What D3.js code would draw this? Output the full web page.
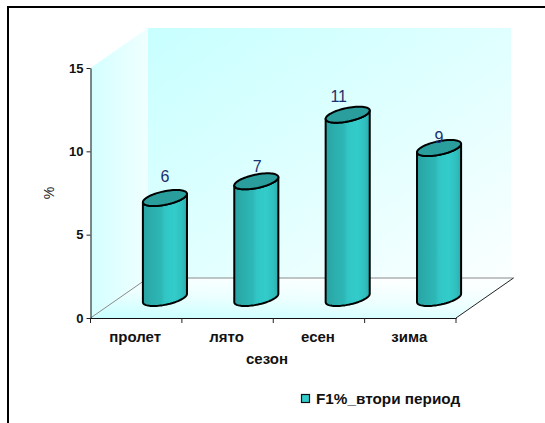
<!DOCTYPE html>
<html>
<head>
<meta charset="utf-8">
<script src="https://cdn.jsdelivr.net/npm/d3@7/dist/d3.min.js"></script>
<style>
  html, body { margin: 0; padding: 0; background: #fff; }
  svg { display: block; }
  text { font-family: "Liberation Sans", Arial, sans-serif; }
</style>
</head>
<body>
<svg id="chart" width="545" height="423"></svg>
<script>
// Seasonal F1% figures for the second period
const categories = ["пролет", "лято", "есен", "зима"];
const values = [6, 7, 11, 9];
const yTicks = [0, 5, 10, 15];
const seriesName = "F1%_втори период";
const xTitle = "сезон";
const yTitle = "%";

const svg = d3.select("#chart");
const defs = svg.append("defs");

// Front plane of the 3D box and the oblique depth vector
const front = { left: 90.5, right: 456, bottom: 318, top: 68 };
const depth = { x: 57.5, y: -40 };

const x = d3.scaleBand().domain(categories).range([front.left, front.right]);
const y = d3.scaleLinear().domain([0, 15]).range([front.bottom, front.top]);

function linear(id, x1, y1, x2, y2, stops) {
  const g = defs.append("linearGradient").attr("id", id)
    .attr("x1", x1).attr("y1", y1).attr("x2", x2).attr("y2", y2);
  stops.forEach(([o, c]) => g.append("stop").attr("offset", o).attr("stop-color", c));
}
linear("wallBack", 0, 0, 1, 1, [[0, "#c8ffff"], [0.55, "#e2ffff"], [1, "#fbffff"]]);
linear("wallSide", 0, 0, 1, 0, [[0, "#d4ffff"], [1, "#f0ffff"]]);
linear("floor", 0, 1, 0.45, 0, [[0, "#c8ffff"], [0.55, "#ecffff"], [1, "#fbffff"]]);
linear("cylinder", 0, 0, 1, 0, [
  [0, "#28a3a2"], [0.2, "#2baead"], [0.42, "#2db7b6"], [0.5, "#31c6c5"],
  [0.72, "#33cccb"], [0.9, "#2fbebd"], [1, "#2aabaa"]
]);

const poly = pts => "M" + pts.map(p => p.join(",")).join("L") + "Z";
const fl = front.left, fr = front.right, fb = front.bottom, ft = front.top;
const dx = depth.x, dy = depth.y;
const wallRight = fr + dx - 2.5;

// Box walls and floor
svg.append("path").attr("fill", "url(#wallBack)")
  .attr("d", poly([[fl + dx, ft + dy], [wallRight, ft + dy], [wallRight, fb + dy], [fl + dx, fb + dy]]));
svg.append("path").attr("fill", "url(#wallSide)")
  .attr("d", poly([[fl, ft], [fl + dx, ft + dy], [fl + dx, fb + dy], [fl, fb]]));
svg.append("path").attr("fill", "url(#floor)")
  .attr("d", poly([[fl, fb], [fr, fb], [fr + dx, fb + dy], [fl + dx, fb + dy]]));

// Floor outline
svg.append("path").attr("fill", "none").attr("stroke", "#8a8a8a").attr("stroke-width", 1)
  .attr("d", `M${fl},${fb}L${fl + dx},${fb + dy}L${fr + dx},${fb + dy}`);
svg.append("path").attr("fill", "none").attr("stroke", "#222").attr("stroke-width", 1)
  .attr("d", `M${fr},${fb}L${fr + dx},${fb + dy}`);

// Outer frame, open on the right and at the bottom
svg.append("path").attr("fill", "none").attr("stroke", "#000").attr("stroke-width", 2)
  .attr("d", "M8,423V7H545");

// Axes
const labelFont = '"Liberation Sans", Arial, sans-serif';
const yAxis = d3.axisLeft(y).tickValues(yTicks).tickSize(4).tickPadding(3).tickSizeOuter(0);
const gy = svg.append("g").attr("transform", `translate(${fl},0)`).call(yAxis);
const xAxis = d3.axisBottom(x).tickSize(0).tickPadding(13);
const gx = svg.append("g").attr("transform", `translate(0,${fb})`).call(xAxis);
gx.selectAll("line.sep").data(d3.range(categories.length + 1)).join("line").attr("class", "sep")
  .attr("x1", i => fl + i * x.step()).attr("x2", i => fl + i * x.step())
  .attr("y1", 0).attr("y2", 5).attr("stroke", "#222");
[gy, gx].forEach(g => {
  g.selectAll(".domain").attr("stroke", "#111").attr("stroke-width", 1);
  g.selectAll(".tick line").attr("stroke", "#222");
  g.selectAll("text").attr("font-weight", "bold").attr("fill", "#111").style("font-family", labelFont);
});
gy.selectAll("text").attr("font-size", 13);
gx.selectAll("text").attr("font-size", 15).attr("dx", -1);

// Axis titles
svg.append("text").attr("x", 267).attr("y", 364).attr("text-anchor", "middle")
  .attr("font-size", 15).attr("font-weight", "bold").attr("fill", "#111").text(xTitle);
svg.append("text").attr("transform", "translate(54,193) rotate(-90)").attr("text-anchor", "middle")
  .attr("font-size", 14).attr("fill", "#222").text(yTitle);

// Cylinder cross-section: a circle on the floor plane seen obliquely
const radiusDepth = 0.2;
const skewX = radiusDepth * dx, skewY = radiusDepth * dy;
const radiusX = 18.8;
const baseX = c => x(c) + x.bandwidth() / 2 + dx / 2;
const baseY = fb + dy / 2;
const rim = (cx, cy, t) => [cx + radiusX * Math.cos(t) + skewX * Math.sin(t), cy + skewY * Math.sin(t)];
const tangent = Math.atan2(skewX, radiusX);
const arc = (cx, cy, from, to) => d3.range(0, 41).map(i => rim(cx, cy, from + (to - from) * i / 40));

const bars = svg.selectAll("g.bar").data(categories).join("g").attr("class", "bar");
bars.each(function (c, i) {
  const g = d3.select(this);
  const cx = baseX(c), h = fb - y(values[i]), topY = baseY - h;
  const rightT = tangent, leftT = tangent + Math.PI;
  // Side: down the right tangent, round the near edge of the base, up the left tangent
  const lower = arc(cx, baseY, rightT, rightT - Math.PI);
  const upper = arc(cx, topY, leftT - 2 * Math.PI, rightT);
  g.append("path").attr("fill", "url(#cylinder)").attr("stroke", "#000").attr("stroke-width", 2)
    .attr("stroke-linejoin", "round")
    .attr("d", "M" + lower.concat(upper).map(p => p.join(",")).join("L") + "Z");
  const ring = d3.range(0, 72).map(t => rim(cx, topY, t / 72 * 2 * Math.PI));
  g.append("path").attr("fill", "#2a9e9c").attr("stroke", "#000").attr("stroke-width", 2)
    .attr("d", poly(ring));
});

// Value labels go above the cylinders, a little off their tops
const labelShift = [[0, -16], [1, -9], [-9, -13], [0, -5]];
values.forEach((v, i) => {
  svg.append("text").attr("x", baseX(categories[i]) + labelShift[i][0]).attr("y", y(v) + dy / 2 + labelShift[i][1])
    .attr("text-anchor", "middle").attr("font-size", 16).attr("fill", "#1c2f6e").text(v);
});

// Legend
svg.append("rect").attr("x", 301.5).attr("y", 394.5).attr("width", 8).attr("height", 8)
  .attr("fill", "#33cccc").attr("stroke", "#111").attr("stroke-width", 1.2);
svg.append("text").attr("x", 316).attr("y", 404).attr("font-size", 15.3).attr("font-weight", "bold")
  .attr("fill", "#111").text(seriesName);
</script>
</body>
</html>
